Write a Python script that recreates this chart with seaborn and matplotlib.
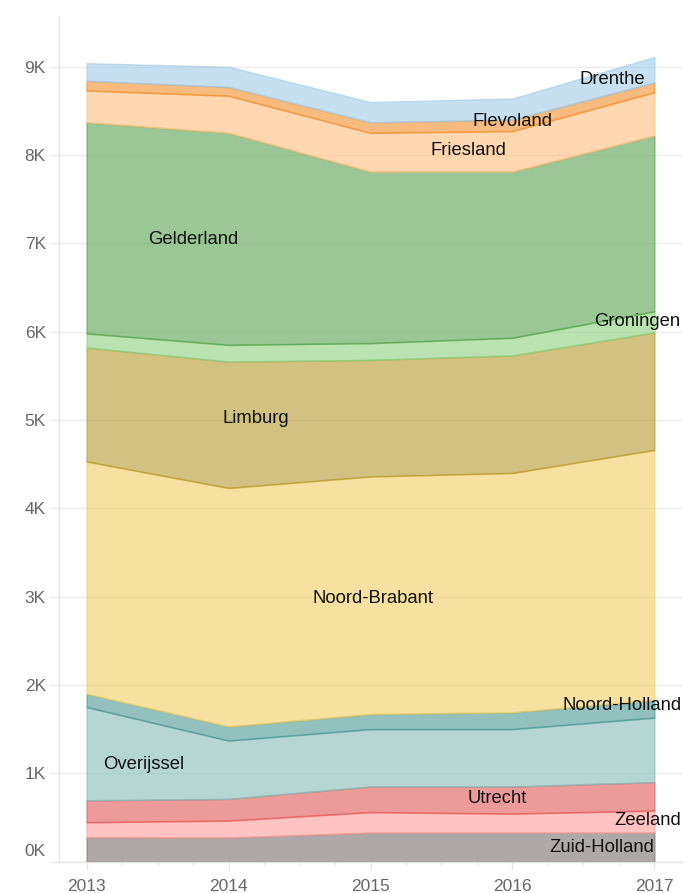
import numpy as np
import pandas as pd
import matplotlib
matplotlib.use("Agg")
import matplotlib.pyplot as plt
import matplotlib.transforms as mtransforms
from matplotlib.ticker import FuncFormatter, MultipleLocator
import seaborn as sns

# Data (values per year)
years = [2013, 2014, 2015, 2016, 2017]

# stack order, bottom to top
provinces = ["Zuid-Holland", "Zeeland", "Utrecht", "Overijssel", "Noord-Holland",
             "Noord-Brabant", "Limburg", "Groningen", "Gelderland", "Friesland",
             "Flevoland", "Drenthe"]

zuid_holland = [274, 272, 328, 328, 328]
zeeland = [172, 192, 232, 215, 249]
utrecht = [247, 246, 290, 307, 323]
overijssel = [1057, 660, 650, 650, 730]
noord_holland = [150, 160, 170, 190, 200]
noord_brabant = [2630, 2700, 2690, 2710, 2830]
limburg = [1290, 1430, 1320, 1330, 1330]
groningen = [160, 190, 190, 200, 240]
gelderland = [2390, 2400, 1940, 1880, 1990]
friesland = [360, 420, 440, 460, 490]
flevoland = [110, 100, 120, 130, 110]
drenthe = [200, 230, 230, 240, 290]

series = [zuid_holland, zeeland, utrecht, overijssel, noord_holland, noord_brabant,
          limburg, groningen, gelderland, friesland, flevoland, drenthe]

colors = ["#79706e", "#ff9d9a", "#e15759", "#86bcb6", "#499894", "#f1ce63",
          "#b6992d", "#8cd17d", "#59a14f", "#ffbe7d", "#f28e2b", "#a0cbe8"]

# where the province names sit (year, value)
label_x = [2016.63, 2016.95, 2015.89, 2013.40, 2016.77, 2015.02,
           2014.19, 2016.88, 2013.75, 2015.69, 2016.0, 2016.70]
label_y = [166, 472, 721, 1106, 1763, 2975, 5020, 6120, 7040, 8057, 8374, 8850]

# long table with the stacked bounds
values = np.array(series)
tops = values.cumsum(axis=0)
bottoms = tops - values
rows = []
for i, name in enumerate(provinces):
    for j, yr in enumerate(years):
        rows.append({"year": yr, "province": name, "value": values[i, j],
                     "bottom": bottoms[i, j], "top": tops[i, j]})
df = pd.DataFrame(rows)

sns.set_theme(style="white")
plt.rcParams["font.family"] = ["Liberation Sans", "DejaVu Sans"]

fig = plt.figure(figsize=(6.96, 8.93), dpi=100)
ax = fig.add_axes([59 / 696, 1 - 861.7 / 893, (682 - 59) / 696, (861.7 - 16) / 893])

# bands drawn bottom-up, each outlined in its own colour
for name, c in zip(provinces, colors):
    d = df[df["province"] == name]
    ax.fill_between(d["year"], d["bottom"], d["top"], facecolor=c, edgecolor=c,
                    alpha=0.6, lw=1, zorder=2)

# faint stroke along the lower edge of every band
sns.lineplot(data=df, x="year", y="bottom", hue="province", hue_order=provinces,
             palette=colors, legend=False, lw=0.8, alpha=0.35, ax=ax, zorder=3)

for name, x, y in zip(provinces, label_x, label_y):
    ax.text(x, y, name, ha="center", va="center", fontsize=13.3, color="#111111", zorder=5)

ax.set_xlim(2012.806, 2017.194)
ax.set_ylim(0, 9574)
ax.set_xticks(years)
ax.xaxis.set_minor_locator(MultipleLocator(0.25))
ax.set_yticks(range(0, 10000, 1000))
ax.yaxis.set_major_formatter(FuncFormatter(lambda v, p: f"{int(v / 1000)}K"))
ax.set_xlabel("")
ax.set_ylabel("")

ax.grid(axis="y", color="#ececec", lw=1, zorder=0)
ax.grid(axis="x", visible=False)
for s in ["top", "right"]:
    ax.spines[s].set_visible(False)
for s in ["left", "bottom"]:
    ax.spines[s].set_color("#e6e6e6")
    ax.spines[s].set_linewidth(1)

ax.tick_params(axis="y", which="major", length=6.5, width=1, color="#ececec",
               labelsize=12.5, labelcolor="#666666", pad=3, left=True)
ax.tick_params(axis="x", which="major", length=6, width=1, color="#e6e6e6",
               labelsize=12.5, labelcolor="#666666", pad=6.5, bottom=True)
ax.tick_params(axis="x", which="minor", length=2.5, width=1, color="#e6e6e6", bottom=True)

# lift the 0K label off the axis line
fig.canvas.draw()
lab0 = ax.get_yticklabels()[0]
lab0.set_transform(lab0.get_transform() + mtransforms.ScaledTranslation(0, 12 / 100, fig.dpi_scale_trans))

fig.savefig("out.png", dpi=100)
